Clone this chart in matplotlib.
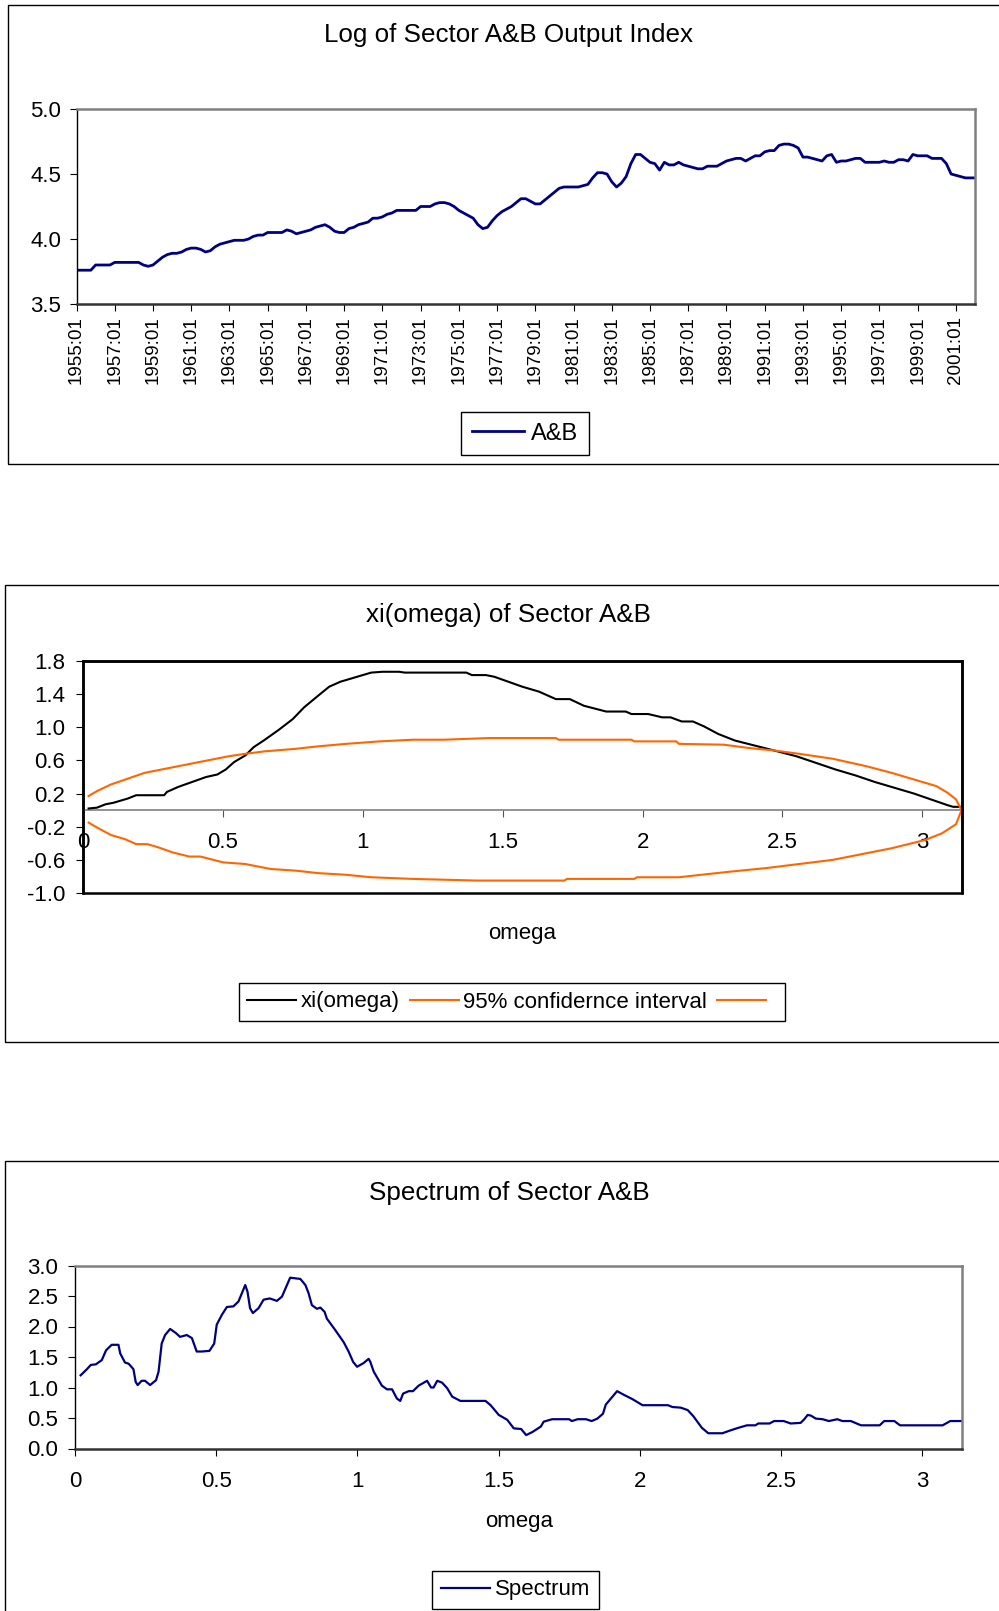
import numpy as np
import matplotlib
matplotlib.use('Agg')
import matplotlib.pyplot as plt
from matplotlib.patches import Rectangle
from matplotlib.ticker import FuncFormatter

plt.rcParams['font.family'] = ['Liberation Sans', 'DejaVu Sans']

# --- data ---

# log of sector A&B output index, quarterly from 1955:01
start_year = 1955
ab_index = [
    3.76, 3.76, 3.76, 3.76,  # 1955
    3.80, 3.80, 3.80, 3.80,
    3.82, 3.82, 3.82, 3.82,
    3.82, 3.82, 3.80, 3.79,
    3.80, 3.83, 3.86, 3.88,
    3.89, 3.89, 3.90, 3.92,  # 1960
    3.93, 3.93, 3.92, 3.90,
    3.91, 3.94, 3.96, 3.97,
    3.98, 3.99, 3.99, 3.99,
    4.00, 4.02, 4.03, 4.03,
    4.05, 4.05, 4.05, 4.05,  # 1965
    4.07, 4.06, 4.04, 4.05,
    4.06, 4.07, 4.09, 4.10,
    4.11, 4.09, 4.06, 4.05,
    4.05, 4.08, 4.09, 4.11,
    4.12, 4.13, 4.16, 4.16,  # 1970
    4.17, 4.19, 4.20, 4.22,
    4.22, 4.22, 4.22, 4.22,
    4.25, 4.25, 4.25, 4.27,
    4.28, 4.28, 4.27, 4.25,
    4.22, 4.20, 4.18, 4.16,  # 1975
    4.11, 4.08, 4.09, 4.14,
    4.18, 4.21, 4.23, 4.25,
    4.28, 4.31, 4.31, 4.29,
    4.27, 4.27, 4.30, 4.33,
    4.36, 4.39, 4.40, 4.40,  # 1980
    4.40, 4.40, 4.41, 4.42,
    4.47, 4.51, 4.51, 4.50,
    4.44, 4.40, 4.43, 4.48,
    4.58, 4.65, 4.65, 4.62,
    4.59, 4.58, 4.53, 4.59,  # 1985
    4.57, 4.57, 4.59, 4.57,
    4.56, 4.55, 4.54, 4.54,
    4.56, 4.56, 4.56, 4.58,
    4.60, 4.61, 4.62, 4.62,
    4.60, 4.62, 4.64, 4.64,  # 1990
    4.67, 4.68, 4.68, 4.72,
    4.73, 4.73, 4.72, 4.70,
    4.63, 4.63, 4.62, 4.61,
    4.60, 4.64, 4.65, 4.59,
    4.60, 4.60, 4.61, 4.62,  # 1995
    4.62, 4.59, 4.59, 4.59,
    4.59, 4.60, 4.59, 4.59,
    4.61, 4.61, 4.60, 4.65,
    4.64, 4.64, 4.64, 4.62,
    4.62, 4.62, 4.58, 4.50,  # 2000
    4.49, 4.48, 4.47, 4.47,
    4.47,
]

# xi(omega)
xi_omega = [0.02, 0.05, 0.08, 0.11, 0.16, 0.19, 0.29, 0.30, 0.34, 0.39, 0.44, 0.48,
            0.51, 0.54, 0.58, 0.61, 0.65, 0.70, 0.75, 0.79, 0.84, 0.88, 0.92, 0.96,
            1.00, 1.03, 1.07, 1.13, 1.15, 1.37, 1.39, 1.44, 1.47, 1.52, 1.57, 1.63,
            1.69, 1.74, 1.79, 1.87, 1.94, 1.96, 2.02, 2.07, 2.10, 2.14, 2.18, 2.22,
            2.27, 2.33, 2.40, 2.47, 2.55, 2.62, 2.69, 2.76, 2.83, 2.90, 2.97, 3.03,
            3.09, 3.11, 3.14]
xi_values = [0.02, 0.03, 0.07, 0.09, 0.14, 0.18, 0.18, 0.22, 0.28, 0.34, 0.40, 0.43,
             0.49, 0.58, 0.66, 0.76, 0.85, 0.97, 1.10, 1.24, 1.38, 1.49, 1.55, 1.59,
             1.63, 1.66, 1.67, 1.67, 1.66, 1.66, 1.63, 1.63, 1.61, 1.55, 1.49, 1.43,
             1.34, 1.34, 1.26, 1.19, 1.19, 1.16, 1.16, 1.12, 1.12, 1.07, 1.07, 1.01,
             0.92, 0.84, 0.78, 0.72, 0.65, 0.57, 0.49, 0.42, 0.34, 0.27, 0.20, 0.13,
             0.06, 0.04, 0.04]

# 95% confidence band
ci_up_omega = [0.02, 0.05, 0.10, 0.16, 0.22, 0.28, 0.34, 0.40, 0.46, 0.52, 0.58, 0.65,
               0.76, 0.84, 0.94, 1.06, 1.18, 1.29, 1.45, 1.69, 1.70, 1.96, 1.97, 2.12,
               2.13, 2.29, 2.38, 2.47, 2.56, 2.68, 2.80, 2.89, 2.97, 3.05, 3.09, 3.12,
               3.14]
ci_upper = [0.17, 0.23, 0.31, 0.38, 0.45, 0.49, 0.53, 0.57, 0.61, 0.65, 0.68, 0.71,
            0.74, 0.77, 0.80, 0.83, 0.85, 0.85, 0.87, 0.87, 0.85, 0.85, 0.83, 0.83,
            0.80, 0.79, 0.75, 0.72, 0.68, 0.62, 0.53, 0.45, 0.37, 0.29, 0.21, 0.13,
            0.0]
ci_lo_omega = [0.02, 0.05, 0.10, 0.15, 0.19, 0.23, 0.27, 0.32, 0.38, 0.42, 0.50, 0.58,
               0.67, 0.76, 0.84, 0.94, 1.03, 1.18, 1.41, 1.72, 1.73, 1.97, 1.98, 2.13,
               2.21, 2.32, 2.44, 2.56, 2.68, 2.80, 2.89, 2.95, 3.01, 3.07, 3.12, 3.14]
ci_lower = [-0.15, -0.21, -0.30, -0.35, -0.41, -0.41, -0.45, -0.51, -0.56, -0.56, -0.63, -0.65,
            -0.71, -0.73, -0.76, -0.78, -0.81, -0.83, -0.85, -0.85, -0.83, -0.83, -0.81, -0.81,
            -0.78, -0.74, -0.70, -0.65, -0.60, -0.52, -0.46, -0.41, -0.36, -0.28, -0.17, 0.0]

# spectrum
spec_omega = [0.02, 0.04, 0.056, 0.074, 0.095, 0.11, 0.13, 0.154, 0.16, 0.177, 0.19, 0.207,
              0.215, 0.222, 0.236, 0.248, 0.266, 0.287, 0.296, 0.307, 0.319, 0.337, 0.358,
              0.372, 0.396, 0.414, 0.431, 0.449, 0.476, 0.493, 0.502, 0.52, 0.538, 0.561,
              0.579, 0.603, 0.611, 0.62, 0.63, 0.65, 0.668, 0.69, 0.715, 0.733, 0.748,
              0.762, 0.798, 0.816, 0.827, 0.839, 0.857, 0.869, 0.884, 0.892, 0.922, 0.952,
              0.969, 0.985, 0.999, 1.022, 1.040, 1.046, 1.058, 1.087, 1.105, 1.123, 1.14,
              1.152, 1.162, 1.182, 1.197, 1.217, 1.247, 1.261, 1.27, 1.283, 1.30, 1.318,
              1.336, 1.365, 1.454, 1.472, 1.501, 1.531, 1.554, 1.58, 1.598, 1.62, 1.65,
              1.66, 1.69, 1.75, 1.76, 1.78, 1.81, 1.83, 1.85, 1.87, 1.88, 1.90, 1.92,
              1.944, 1.974, 2.01, 2.10, 2.116, 2.145, 2.17, 2.19, 2.22, 2.243, 2.293,
              2.317, 2.35, 2.38, 2.41, 2.42, 2.46, 2.476, 2.51, 2.535, 2.57, 2.583, 2.595,
              2.606, 2.624, 2.648, 2.67, 2.70, 2.718, 2.748, 2.784, 2.85, 2.866, 2.902,
              2.922, 3.073, 3.10, 3.14]
spec_values = [1.20, 1.29, 1.37, 1.38, 1.45, 1.61, 1.70, 1.70, 1.56, 1.41, 1.39, 1.30,
               1.09, 1.04, 1.11, 1.11, 1.04, 1.12, 1.26, 1.72, 1.86, 1.96, 1.89,
               1.83, 1.86, 1.81, 1.59, 1.59, 1.60, 1.72, 2.03, 2.19, 2.32, 2.33,
               2.41, 2.68, 2.57, 2.30, 2.22, 2.30, 2.44, 2.46, 2.42, 2.49, 2.65,
               2.80, 2.78, 2.68, 2.55, 2.35, 2.29, 2.31, 2.24, 2.13, 1.94, 1.74,
               1.59, 1.42, 1.34, 1.40, 1.47, 1.42, 1.26, 1.03, 0.97, 0.97, 0.82,
               0.78, 0.90, 0.94, 0.94, 1.03, 1.11, 1.00, 1.00, 1.11, 1.08, 0.99,
               0.85, 0.78, 0.78, 0.71, 0.55, 0.47, 0.33, 0.32, 0.22, 0.27, 0.36,
               0.44, 0.48, 0.48, 0.45, 0.48, 0.48, 0.45, 0.49, 0.57, 0.72, 0.83, 0.94,
               0.88, 0.81, 0.71, 0.71, 0.68, 0.67, 0.63, 0.53, 0.34, 0.25, 0.25,
               0.29, 0.34, 0.38, 0.38, 0.41, 0.41, 0.45, 0.45, 0.41, 0.42, 0.48, 0.55,
               0.54, 0.49, 0.48, 0.45, 0.48, 0.45, 0.45, 0.38, 0.38, 0.45, 0.45,
               0.38, 0.38, 0.45, 0.45]

W, H = 999, 1611
fig = plt.figure(figsize=(W / 100, H / 100), dpi=100)


def axes_px(left, top, right, bottom):
    return fig.add_axes([left / W, 1 - bottom / H, (right - left) / W, (bottom - top) / H])


def chart_box(left, top, bottom):
    fig.add_artist(Rectangle((left / W, 1 - bottom / H), (W + 20 - left) / W, (bottom - top) / H,
                             transform=fig.transFigure, fill=False, ec='black', lw=1.0))


def excel_frame(ax):
    ax.spines['top'].set_color('#808080')
    ax.spines['right'].set_color('#808080')
    ax.spines['top'].set_linewidth(1.8)
    ax.spines['right'].set_linewidth(1.8)
    ax.spines['left'].set_color('black')
    ax.spines['left'].set_linewidth(1.0)
    ax.spines['bottom'].set_color('#333333')
    ax.spines['bottom'].set_linewidth(1.8)


fmt1 = FuncFormatter(lambda v, p: f"{v:.1f}")
fmtg = FuncFormatter(lambda v, p: f"{v:g}")

# ---------- chart 1 ----------
chart_box(8, 5, 464)
fig.text(509 / W, 1 - 35 / H, 'Log of Sector A&B Output Index', ha='center', va='center', fontsize=18.7)
ax1 = axes_px(76.5, 109, 975, 304)
x = np.arange(len(ab_index))
ax1.plot(x, ab_index, color='#000080', lw=2.0, label='A&B')
ax1.set_xlim(0, len(ab_index) - 1)
ax1.set_ylim(3.5, 5.0)
ax1.set_yticks([3.5, 4.0, 4.5, 5.0])
ax1.yaxis.set_major_formatter(fmt1)
ticks = list(range(0, len(ab_index), 8))
ax1.set_xticks(ticks)
ax1.set_xticklabels([f"{start_year + t // 4}:01" for t in ticks], rotation=90, fontsize=13.5)
ax1.tick_params(axis='y', labelsize=16, length=5, pad=6)
ax1.tick_params(axis='x', length=5, pad=4)
excel_frame(ax1)
leg = ax1.legend(loc='center', bbox_to_anchor=(525 / W, 1 - 433.5 / H), bbox_transform=fig.transFigure,
                 fontsize=17, fancybox=False, edgecolor='black', handlelength=2.2, handletextpad=0.3,
                 borderpad=0.45, framealpha=1)
leg.get_frame().set_linewidth(1.0)

# ---------- chart 2 ----------
chart_box(5, 585, 1042)
fig.text(508 / W, 1 - 615 / H, 'xi(omega) of Sector A&B', ha='center', va='center', fontsize=18.7)
ax2 = axes_px(83, 661, 962, 893)
l_xi, = ax2.plot(xi_omega, xi_values, color='black', lw=1.5, label='xi(omega)', zorder=4)
l_up, = ax2.plot(ci_up_omega, ci_upper, color='#FF6600', lw=1.5, label='95% confidernce interval', zorder=4)
l_lo, = ax2.plot(ci_lo_omega, ci_lower, color='#FF6600', lw=1.5, label=' ', zorder=4)
ax2.set_xlim(0, np.pi)
ax2.set_ylim(-1.0, 1.8)
ax2.set_yticks([-1.0, -0.6, -0.2, 0.2, 0.6, 1.0, 1.4, 1.8])
ax2.yaxis.set_major_formatter(fmt1)
ax2.set_xticks([0, 0.5, 1, 1.5, 2, 2.5, 3])
ax2.xaxis.set_major_formatter(fmtg)
for s in ['top', 'right', 'left']:
    ax2.spines[s].set_color('black')
    ax2.spines[s].set_linewidth(1.8)
ax2.spines['bottom'].set_position(('data', 0))
ax2.spines['bottom'].set_color('#808080')
ax2.spines['bottom'].set_linewidth(1.2)
ax2.add_patch(Rectangle((0, 0), 1, 1, transform=ax2.transAxes, fill=False, ec='black', lw=1.8,
                        clip_on=False, zorder=5))
ax2.tick_params(axis='y', labelsize=16, length=5, pad=8)
ax2.tick_params(axis='x', labelsize=16, length=5, pad=11, color='#555555')
fig.text(522 / W, 1 - 933 / H, 'omega', ha='center', va='center', fontsize=16)
leg2 = ax2.legend(handles=[l_xi, l_up, l_lo], loc='center', ncol=3,
                  bbox_to_anchor=(512 / W, 1 - 1002 / H), bbox_transform=fig.transFigure,
                  fontsize=16, fancybox=False, edgecolor='black', handlelength=2.2, handletextpad=0.2,
                  columnspacing=0.45, framealpha=1)
leg2.get_frame().set_linewidth(1.0)

# ---------- chart 3 ----------
chart_box(5, 1161, 1640)
fig.text(509 / W, 1 - 1193 / H, 'Spectrum of Sector A&B', ha='center', va='center', fontsize=18.7)
ax3 = axes_px(75, 1265.5, 962, 1448.5)
ax3.plot(spec_omega, spec_values, color='#000080', lw=1.6, label='Spectrum')
ax3.set_xlim(0, np.pi)
ax3.set_ylim(0, 3.0)
ax3.set_yticks([0, 0.5, 1.0, 1.5, 2.0, 2.5, 3.0])
ax3.yaxis.set_major_formatter(fmt1)
ax3.set_xticks([0, 0.5, 1, 1.5, 2, 2.5, 3])
ax3.xaxis.set_major_formatter(fmtg)
ax3.tick_params(axis='y', labelsize=16, length=5, pad=7)
ax3.tick_params(axis='x', labelsize=16, length=5, pad=11)
excel_frame(ax3)
fig.text(519 / W, 1 - 1522 / H, 'omega', ha='center', va='center', fontsize=16)
leg3 = ax3.legend(loc='center', bbox_to_anchor=(515.5 / W, 1 - 1590 / H), bbox_transform=fig.transFigure,
                  fontsize=16, fancybox=False, edgecolor='black', handlelength=2.2, handletextpad=0.2,
                  framealpha=1)
leg3.get_frame().set_linewidth(1.0)

fig.savefig('out.png', dpi=100)
